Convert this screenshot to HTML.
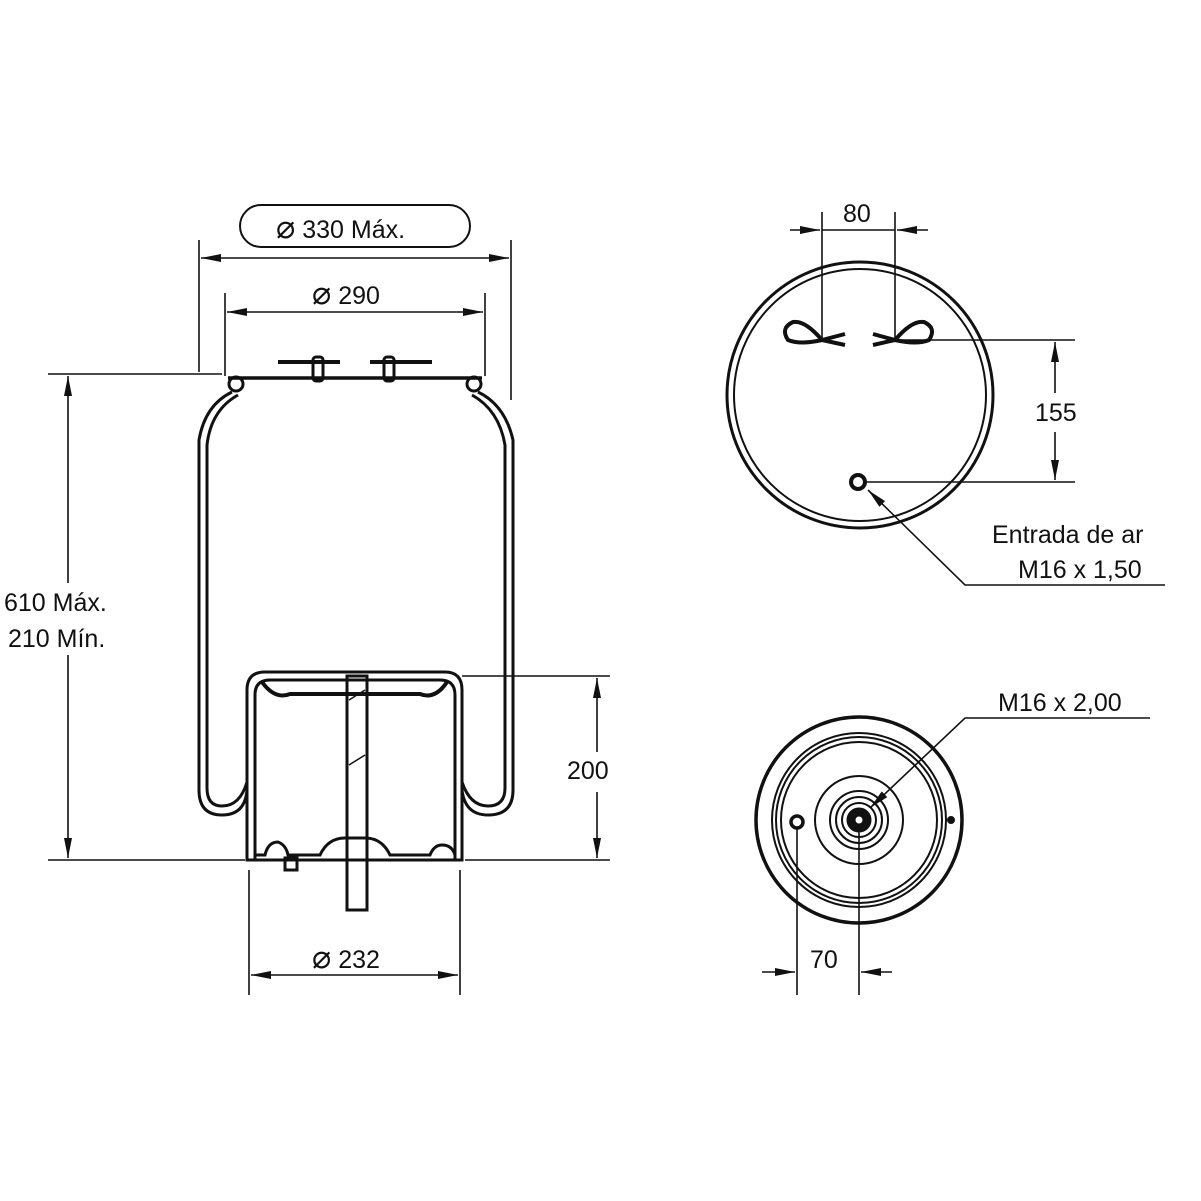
<!DOCTYPE html>
<html><head><meta charset="utf-8"><style>
html,body{margin:0;padding:0;background:#fff}
svg{display:block}
text{font-family:"Liberation Sans",sans-serif;font-size:25px;fill:#111}
</style></head><body>
<svg width="1201" height="1201" viewBox="0 0 1201 1201" xmlns="http://www.w3.org/2000/svg">
<defs>
<marker id="a" viewBox="0 0 20 10" refX="20" refY="5" markerWidth="20" markerHeight="10" markerUnits="userSpaceOnUse" orient="auto-start-reverse"><path d="M0,1 L20,5 L0,9 Z" fill="#111"/></marker>
</defs>
<g stroke="#111" fill="none" stroke-width="1.6">
<rect x="240" y="205" width="230" height="42" rx="21" stroke-width="2"/>
<line x1="199" y1="240" x2="199" y2="372"/>
<line x1="511" y1="240" x2="511" y2="400"/>
<line x1="201" y1="258" x2="509" y2="258" marker-start="url(#a)" marker-end="url(#a)"/>
<line x1="225" y1="293" x2="225" y2="376"/>
<line x1="485" y1="293" x2="485" y2="376"/>
<line x1="227" y1="312" x2="483" y2="312" marker-start="url(#a)" marker-end="url(#a)"/>
<line x1="48" y1="374" x2="222" y2="374"/>
<line x1="48" y1="860" x2="245" y2="860"/>
<line x1="68" y1="376" x2="68" y2="583" marker-start="url(#a)"/>
<line x1="68" y1="655" x2="68" y2="858" marker-end="url(#a)"/>
<line x1="462" y1="676" x2="610" y2="676"/>
<line x1="465" y1="860" x2="610" y2="860"/>
<line x1="597" y1="678" x2="597" y2="752" marker-start="url(#a)"/>
<line x1="597" y1="792" x2="597" y2="858" marker-end="url(#a)"/>
<line x1="249" y1="870" x2="249" y2="995"/>
<line x1="460" y1="870" x2="460" y2="995"/>
<line x1="251" y1="975" x2="458" y2="975" marker-start="url(#a)" marker-end="url(#a)"/>
</g>
<g fill="#111">
<text x="276" y="238"><tspan font-size="32">⌀</tspan> 330 Máx.</text>
<text x="312" y="304"><tspan font-size="32">⌀</tspan> 290</text>
<text x="312" y="968"><tspan font-size="32">⌀</tspan> 232</text>
<text x="4" y="611">610 Máx.</text>
<text x="8" y="647">210 Mín.</text>
<text x="567" y="779">200</text>
</g>
<g stroke="#111" fill="none" stroke-width="3">
<line x1="228" y1="378" x2="482" y2="378" stroke-width="3.5"/>
<line x1="278" y1="362" x2="340" y2="362" stroke-width="4"/>
<line x1="370" y1="362" x2="432" y2="362" stroke-width="4"/>
<rect x="313" y="357" width="10" height="24" rx="3"/>
<rect x="384" y="357" width="10" height="24" rx="3"/>
<circle cx="236" cy="384" r="7"/>
<circle cx="474" cy="384" r="7"/>
<path d="M232,392 Q205,405 199,440 L199,790 Q199,815 222,815 Q245,815 247,790"/>
<path d="M238,395 Q211,410 207,445 L207,788 Q207,806 222,806 Q240,806 247,782"/>
<path d="M478,392 Q505,405 513,440 L513,790 Q513,815 488,815 Q465,815 462,790"/>
<path d="M472,395 Q499,410 505,445 L505,788 Q505,806 488,806 Q470,806 462,782"/>
<path d="M247,860 L247,690 Q247,672 265,672 L445,672 Q462,672 462,690 L462,860 Z"/>
<path d="M255,860 L255,695 Q255,680 270,680 L440,680 Q455,680 455,695 L455,860"/>
<path d="M262,682 Q275,700 290,694 L420,694 Q435,700 447,682" stroke-width="4"/>
<path d="M255,855 L265,855 Q268,842 278,842 Q286,845 288,855 L320,855 Q328,838 345,838 L365,838 Q382,838 390,855 L430,855 Q434,845 442,845 Q452,845 455,855"/>
<rect x="285" y="858" width="12" height="12"/>
<rect x="347" y="676" width="20" height="234"/>
<line x1="349" y1="700" x2="365" y2="690" stroke-width="1.5"/>
<line x1="349" y1="765" x2="365" y2="755" stroke-width="1.5"/>
</g>
<g stroke="#111" fill="none" stroke-width="1.6">
<circle cx="860" cy="395" r="133" stroke-width="3"/>
<circle cx="860" cy="395" r="126" stroke-width="2"/>
<line x1="822" y1="212" x2="822" y2="340"/>
<line x1="895" y1="212" x2="895" y2="340"/>
<line x1="790" y1="230" x2="820" y2="230" marker-end="url(#a)"/>
<line x1="928" y1="230" x2="897" y2="230" marker-end="url(#a)"/>
<line x1="822" y1="230" x2="895" y2="230"/>
<line x1="895" y1="340" x2="1075" y2="340"/>
<line x1="865" y1="482" x2="1075" y2="482"/>
<line x1="1055" y1="342" x2="1055" y2="393" marker-start="url(#a)"/>
<line x1="1055" y1="432" x2="1055" y2="480" marker-end="url(#a)"/>
<path d="M822,340 Q800,345 788,340 Q780,328 793,322 Q805,320 822,340 Z" stroke-width="4"/>
<path d="M822,340 L845,334 M822,340 L845,345" stroke-width="4"/>
<path d="M895,340 Q917,345 929,340 Q937,328 924,322 Q912,320 895,340 Z" stroke-width="4"/>
<path d="M895,340 L873,334 M895,340 L873,345" stroke-width="4"/>
<circle cx="858" cy="482" r="7" stroke-width="4"/>
<polyline points="868,490 965,585 1165,585" marker-start="url(#a)"/>
</g>
<text x="992" y="543">Entrada de ar</text>
<text x="1018" y="578">M16 x 1,50</text>
<text x="1035" y="421">155</text>
<text x="843" y="222">80</text>
<g stroke="#111" fill="none" stroke-width="2">
<circle cx="859" cy="820" r="103" stroke-width="3.5"/>
<circle cx="859" cy="820" r="87"/>
<circle cx="859" cy="820" r="83"/>
<circle cx="859" cy="820" r="78"/>
<circle cx="859" cy="820" r="44"/>
<circle cx="859" cy="820" r="29"/>
<circle cx="859" cy="820" r="23"/>
<circle cx="859" cy="820" r="17"/>
<circle cx="859" cy="820" r="8" stroke-width="9"/>
<circle cx="797" cy="822" r="6" stroke-width="3.5"/>
<circle cx="951" cy="820" r="3" fill="#111"/>
<line x1="797" y1="828" x2="797" y2="995" stroke-width="1.6"/>
<line x1="859" y1="830" x2="859" y2="995" stroke-width="1.6"/>
<line x1="762" y1="972" x2="795" y2="972" stroke-width="1.6" marker-end="url(#a)"/>
<line x1="892" y1="972" x2="861" y2="972" stroke-width="1.6" marker-end="url(#a)"/>
<polyline points="870,808 965,718 1150,718" stroke-width="1.6" marker-start="url(#a)"/>
</g>
<text x="998" y="711">M16 x 2,00</text>
<text x="810" y="968">70</text>
</svg>
</body></html>
